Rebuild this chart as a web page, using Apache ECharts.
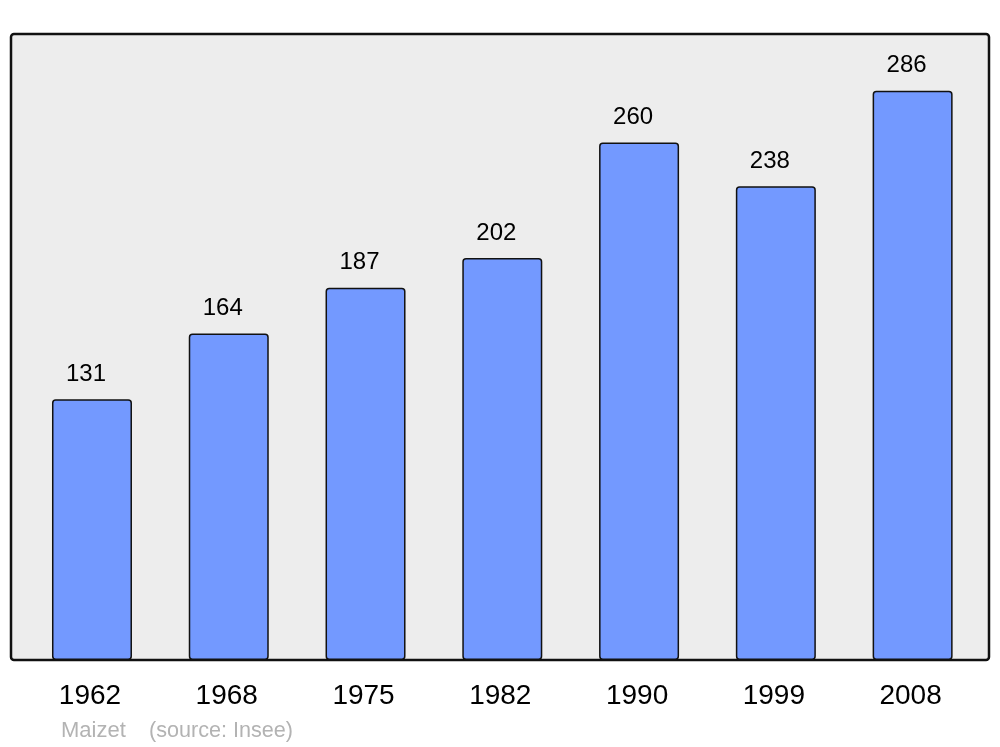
<!DOCTYPE html>
<html><head><meta charset="utf-8">
<script src="https://cdn.jsdelivr.net/npm/echarts@6/dist/echarts.min.js"></script>
<style>html,body{margin:0;padding:0;background:#fff}#c{width:1000px;height:747px}</style>
</head><body><div id="c"></div>
<script>
const years = ['1962','1968','1975','1982','1990','1999','2008'];
const population = [131,164,187,202,260,238,286];
const chart = echarts.init(document.getElementById('c'));
chart.setOption({
  animation:false,
  backgroundColor:'#ffffff',
  textStyle:{fontFamily:'Liberation Sans, Arial, sans-serif'},
  graphic:[
    {type:'rect', z:0, shape:{x:11,y:34,width:978,height:626,r:3}, style:{fill:'#ededed',stroke:'#111111',lineWidth:2.5}},
    {type:'text', z:5, left:61, top:720, style:{text:'Maizet',fill:'#b3b3b3',font:'22px "Liberation Sans", Arial, sans-serif'}},
    {type:'text', z:5, left:149, top:720, style:{text:'(source: Insee)',fill:'#b3b3b3',font:'21.6px "Liberation Sans", Arial, sans-serif'}}
  ],
  grid:{left:23.6,right:19,top:34,bottom:87},
  xAxis:{type:'category',data:years,axisLine:{show:false},axisTick:{show:false},
    axisLabel:{fontSize:28,color:'#000',margin:22,padding:[0,4,0,0],fontFamily:'Liberation Sans, Arial, sans-serif'}},
  yAxis:{type:'value',min:0,max:314.5,show:false,splitLine:{show:false}},
  series:[{type:'bar',data:population,barWidth:80,z:2,
    itemStyle:{color:'#7399ff',borderColor:'#111111',borderWidth:1.5,borderRadius:3},
    label:{show:true,position:'top',distance:13,offset:[-6,0],fontSize:24,color:'#000',fontFamily:'Liberation Sans, Arial, sans-serif'}
  }]
});
</script></body></html>
